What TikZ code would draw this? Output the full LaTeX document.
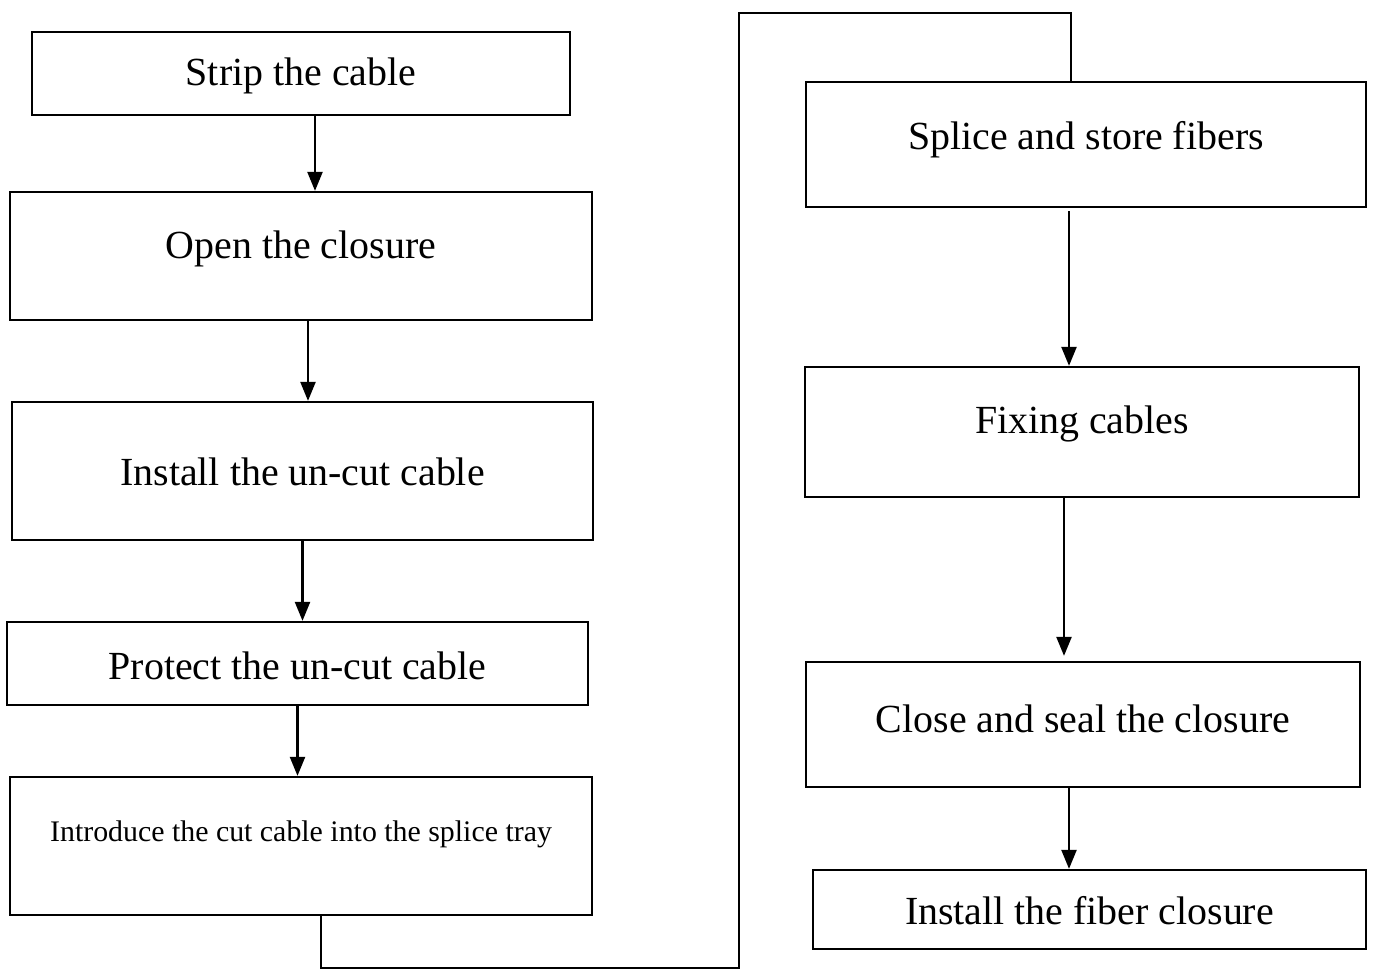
\documentclass[tikz,border=0pt]{standalone}
\usepackage{fontspec}
\setmainfont{Liberation Serif}
\usetikzlibrary{arrows.meta}

\begin{document}
\begin{tikzpicture}[x=0.02cm, y=-0.02cm,
		box/.style={draw, line width=1.3pt, inner sep=0pt},
		txt/.style={font=\fontsize{22.7}{27}\selectfont},
		small/.style={font=\fontsize{17}{20}\selectfont},
		arr/.style={-{Triangle[length=0.38cm, width=0.3cm]}, line width=1.3pt}]
		\useasboundingbox (0, 0) rectangle (1373, 969);

		% left column
		\node[box, minimum width=10.76cm, minimum height=1.66cm, label={[txt, yshift=-0.05cm]center:Strip the cable}] (strip) at (301, 73.5) {};
		\node[box, minimum width=11.64cm, minimum height=2.56cm, label={[txt, yshift=0.15cm]center:Open the closure}] (open) at (301, 256) {};
		\node[box, minimum width=11.62cm, minimum height=2.76cm, label={[txt, yshift=-0.02cm]center:Install the un-cut cable}] (install) at (302.5, 471) {};
		\node[box, minimum width=11.62cm, minimum height=1.66cm, label={[txt, yshift=-0.04cm]center:Protect the un-cut cable}] (protect) at (297.5, 663.5) {};
		\node[box, minimum width=11.64cm, minimum height=2.76cm, label={[small, yshift=0.24cm]center:Introduce the cut cable into the splice tray}] (intro) at (301, 846) {};

		% right column
		\node[box, minimum width=11.2cm, minimum height=2.5cm, label={[txt, yshift=0.09cm]center:Splice and store fibers}] (splice) at (1086, 144.5) {};
		\node[box, minimum width=11.08cm, minimum height=2.6cm, label={[txt, yshift=0.16cm]center:Fixing cables}] (fixing) at (1082, 432) {};
		\node[box, minimum width=11.08cm, minimum height=2.5cm, label={[txt, yshift=0.12cm]center:Close and seal the closure}] (close) at (1083, 724.5) {};
		\node[box, minimum width=11.06cm, minimum height=1.58cm, label={[txt, yshift=-0.03cm]center:Install the fiber closure}] (fiber) at (1089.5, 909.5) {};

		\draw[arr] ([xshift=0.28cm]strip.south) -- ([xshift=0.28cm]strip.south |- open.north);
		\draw[arr] ([xshift=0.14cm]open.south) -- ([xshift=0.14cm]open.south |- install.north);
		\draw[arr] (install.south) -- (install.south |- protect.north);
		\draw[arr] (protect.south) -- (protect.south |- intro.north);

		\draw[line width=1.3pt] ([xshift=0.4cm]intro.south) -- ++(0, 52) -| (739, 13) -| ([xshift=-0.3cm]splice.north);

		\draw[arr] ([xshift=-0.34cm, yshift=-0.06cm]splice.south) -- ([xshift=-0.34cm]splice.south |- fixing.north);
		\draw[arr] ([xshift=-0.36cm]fixing.south) -- ([xshift=-0.36cm, yshift=0.1cm]fixing.south |- close.north);
		\draw[arr] ([xshift=-0.28cm]close.south) -- ([xshift=-0.28cm]close.south |- fiber.north);
	\end{tikzpicture}
\end{document}
